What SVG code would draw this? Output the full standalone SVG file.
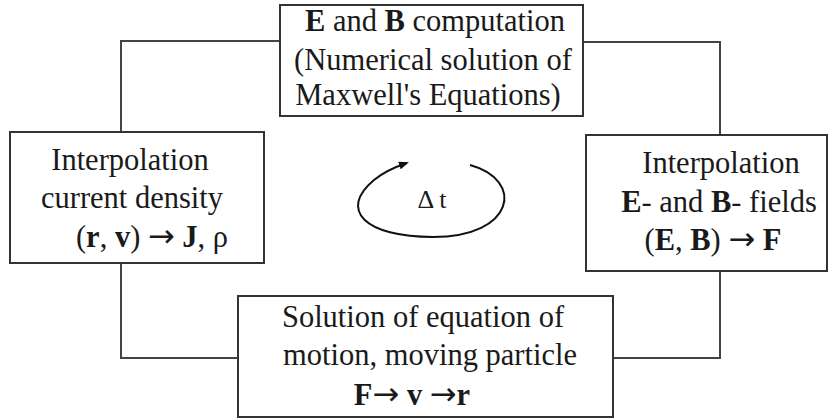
<svg xmlns="http://www.w3.org/2000/svg" width="830" height="420" viewBox="0 0 830 420">
<style>
.box{fill:#fff;stroke:#333;stroke-width:2}
.con{fill:none;stroke:#444;stroke-width:2}
.t{font-family:"Liberation Serif","Times New Roman",serif;font-size:30.5px;fill:#1a1a1a;text-anchor:middle}
.b{font-weight:bold}
.ar{font-family:"DejaVu Sans",sans-serif;font-size:32px}
</style>
<defs>
<marker id="ah" markerWidth="10" markerHeight="8" refX="8" refY="4" orient="auto" markerUnits="userSpaceOnUse">
<path d="M0,0 L10,4 L0,8 Z" fill="#111"/>
</marker>
</defs>
<rect width="830" height="420" fill="#fff"/>
<g id="connectors">
<polyline class="con" points="280,41 121,41 121,132"/>
<polyline class="con" points="121,263 121,358 238,358"/>
<polyline class="con" points="613,358 720,358 720,271"/>
<polyline class="con" points="720,135 720,42 583,42"/>
<path d="M470,165 C525,180 515,237 433,237 C365,237 338,210 374,180 C385,171 395,167 407,163" fill="none" stroke="#111" stroke-width="2" marker-end="url(#ah)"/>
</g>
<g id="top">
<rect class="box" x="280" y="5" width="303" height="111"/>
<text class="t" x="435" y="31"><tspan class="b">E</tspan> and <tspan class="b">B</tspan> computation</text>
<text class="t" x="433" y="70">(Numerical solution of</text>
<text class="t" x="428" y="105">Maxwell's Equations)</text>
</g>
<g id="left">
<rect class="box" x="10" y="132" width="254" height="131"/>
<text class="t" x="130" y="170">Interpolation</text>
<text class="t" x="132" y="208">current density</text>
<text class="t" x="152" y="247">(<tspan class="b">r</tspan>, <tspan class="b">v</tspan>) <tspan class="ar">→</tspan> <tspan class="b">J</tspan>, ρ</text>
</g>
<g id="right">
<rect class="box" x="586" y="135" width="241" height="136"/>
<text class="t" x="721" y="173">Interpolation</text>
<text class="t" x="719" y="212"><tspan class="b">E</tspan>- and <tspan class="b">B</tspan>- fields</text>
<text class="t" x="713" y="250">(<tspan class="b">E</tspan>, <tspan class="b">B</tspan>) <tspan class="ar">→</tspan> <tspan class="b">F</tspan></text>
</g>
<g id="bottom">
<rect class="box" x="238" y="296" width="375" height="121"/>
<text class="t" x="423" y="327">Solution of equation of</text>
<text class="t" x="430" y="365">motion, moving particle</text>
<text class="t" x="412" y="405"><tspan class="b">F</tspan><tspan class="ar">→</tspan> <tspan class="b">v</tspan> <tspan class="ar">→</tspan><tspan class="b">r</tspan></text>
</g>
<g id="dt">
<text class="t" x="432" y="208" style="font-size:26px">Δ t</text>
</g>
</svg>
